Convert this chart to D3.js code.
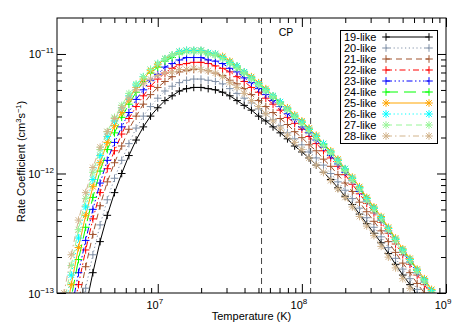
<!DOCTYPE html>
<html>
<head>
<meta charset="utf-8">
<title>Rate coefficients</title>
<style>
  body { margin: 0; background: #fff; }
  text { font-family: "Liberation Sans", Arial, sans-serif; fill: #000; }
</style>
</head>
<body>
<div id="chart"></div>
<script src="https://d3js.org/d3.v7.min.js"></script>
<script>
// log10 of temperature (K), shared grid for all curves
var logT = [6.30, 6.35, 6.40, 6.45, 6.50, 6.55, 6.60, 6.65, 6.70, 6.75,
            6.80, 6.85, 6.90, 6.95, 7.00, 7.05, 7.10, 7.15, 7.20, 7.25,
            7.30, 7.35, 7.40, 7.45, 7.50, 7.55, 7.60, 7.65, 7.70, 7.75,
            7.80, 7.85, 7.90, 7.95, 8.00, 8.05, 8.10, 8.15, 8.20, 8.25,
            8.30, 8.35, 8.40, 8.45, 8.50, 8.55, 8.60, 8.65, 8.70, 8.75,
            8.80, 8.85, 8.90, 8.95, 9.00];

// log10 of rate coefficient (cm^3 s^-1)
var rate19 = [-14.50, -14.12, -13.76, -13.42, -13.12, -12.83, -12.57, -12.35, -12.16, -12.00,
              -11.85, -11.72, -11.61, -11.52, -11.45, -11.39, -11.35, -11.31, -11.29, -11.28,
              -11.28, -11.29, -11.30, -11.32, -11.35, -11.39, -11.43, -11.47, -11.52, -11.56,
              -11.61, -11.66, -11.71, -11.77, -11.82, -11.87, -11.93, -11.99, -12.05, -12.12,
              -12.19, -12.26, -12.34, -12.42, -12.50, -12.58, -12.67, -12.76, -12.85, -12.93,
              -13.02, -13.10, -13.19, -13.27, -13.36];
var rate20 = [-14.31, -13.94, -13.59, -13.25, -12.96, -12.68, -12.43, -12.22, -12.04, -11.89,
              -11.75, -11.62, -11.52, -11.44, -11.37, -11.31, -11.27, -11.24, -11.22, -11.21,
              -11.21, -11.22, -11.23, -11.25, -11.29, -11.33, -11.37, -11.41, -11.46, -11.50,
              -11.55, -11.60, -11.66, -11.71, -11.76, -11.82, -11.87, -11.93, -12.00, -12.07,
              -12.14, -12.21, -12.29, -12.37, -12.45, -12.53, -12.62, -12.71, -12.80, -12.88,
              -12.97, -13.05, -13.14, -13.22, -13.31];
var rate21 = [-14.11, -13.74, -13.39, -13.07, -12.78, -12.51, -12.27, -12.07, -11.91, -11.77,
              -11.63, -11.52, -11.42, -11.34, -11.28, -11.23, -11.19, -11.15, -11.14, -11.13,
              -11.13, -11.14, -11.16, -11.18, -11.22, -11.25, -11.29, -11.34, -11.39, -11.44,
              -11.49, -11.54, -11.59, -11.65, -11.70, -11.76, -11.81, -11.88, -11.94, -12.01,
              -12.08, -12.15, -12.24, -12.32, -12.40, -12.48, -12.57, -12.66, -12.75, -12.83,
              -12.92, -13.00, -13.09, -13.17, -13.26];
var rate22 = [-13.95, -13.59, -13.25, -12.93, -12.64, -12.38, -12.16, -11.96, -11.81, -11.67,
              -11.54, -11.44, -11.35, -11.27, -11.21, -11.16, -11.12, -11.09, -11.08, -11.07,
              -11.07, -11.08, -11.10, -11.12, -11.15, -11.19, -11.23, -11.28, -11.32, -11.37,
              -11.42, -11.47, -11.53, -11.58, -11.63, -11.69, -11.75, -11.81, -11.87, -11.94,
              -12.01, -12.09, -12.17, -12.25, -12.33, -12.41, -12.50, -12.59, -12.68, -12.76,
              -12.85, -12.93, -13.02, -13.10, -13.19];
var rate23 = [-13.85, -13.49, -13.15, -12.83, -12.56, -12.30, -12.08, -11.89, -11.74, -11.61,
              -11.49, -11.38, -11.30, -11.22, -11.17, -11.11, -11.08, -11.05, -11.03, -11.03,
              -11.03, -11.05, -11.06, -11.08, -11.12, -11.15, -11.20, -11.24, -11.29, -11.34,
              -11.39, -11.44, -11.50, -11.55, -11.61, -11.66, -11.72, -11.78, -11.85, -11.92,
              -11.99, -12.06, -12.15, -12.23, -12.31, -12.39, -12.48, -12.57, -12.66, -12.74,
              -12.83, -12.91, -13.00, -13.08, -13.17];
var rate24 = [-13.73, -13.37, -13.04, -12.72, -12.45, -12.20, -11.98, -11.80, -11.66, -11.53,
              -11.42, -11.32, -11.23, -11.16, -11.11, -11.06, -11.03, -11.00, -10.98, -10.98,
              -10.98, -11.00, -11.01, -11.03, -11.07, -11.11, -11.16, -11.20, -11.25, -11.30,
              -11.36, -11.41, -11.46, -11.52, -11.57, -11.63, -11.69, -11.76, -11.82, -11.89,
              -11.97, -12.04, -12.12, -12.21, -12.29, -12.37, -12.46, -12.55, -12.64, -12.72,
              -12.81, -12.89, -12.98, -13.06, -13.15];
var rate25 = [-13.61, -13.26, -12.93, -12.62, -12.35, -12.11, -11.91, -11.74, -11.60, -11.49,
              -11.38, -11.28, -11.21, -11.14, -11.09, -11.04, -11.01, -10.98, -10.97, -10.97,
              -10.97, -10.99, -11.00, -11.02, -11.06, -11.10, -11.15, -11.19, -11.24, -11.29,
              -11.35, -11.40, -11.45, -11.51, -11.56, -11.62, -11.68, -11.75, -11.81, -11.88,
              -11.96, -12.03, -12.11, -12.20, -12.28, -12.36, -12.45, -12.54, -12.63, -12.71,
              -12.80, -12.88, -12.97, -13.05, -13.14];
var rate26 = [-13.52, -13.17, -12.85, -12.54, -12.28, -12.05, -11.85, -11.69, -11.56, -11.45,
              -11.35, -11.26, -11.19, -11.13, -11.08, -11.04, -11.01, -10.98, -10.97, -10.97,
              -10.97, -10.99, -11.00, -11.03, -11.07, -11.10, -11.15, -11.20, -11.25, -11.30,
              -11.35, -11.40, -11.46, -11.52, -11.57, -11.63, -11.69, -11.75, -11.82, -11.89,
              -11.96, -12.04, -12.12, -12.21, -12.29, -12.37, -12.46, -12.55, -12.64, -12.72,
              -12.81, -12.89, -12.98, -13.06, -13.15];
var rate27 = [-13.43, -13.09, -12.77, -12.47, -12.21, -11.99, -11.80, -11.65, -11.53, -11.43,
              -11.33, -11.25, -11.19, -11.13, -11.08, -11.04, -11.01, -10.99, -10.98, -10.98,
              -10.98, -11.00, -11.01, -11.04, -11.08, -11.12, -11.16, -11.21, -11.26, -11.31,
              -11.36, -11.42, -11.47, -11.53, -11.59, -11.65, -11.71, -11.77, -11.83, -11.91,
              -11.98, -12.06, -12.14, -12.23, -12.31, -12.39, -12.48, -12.57, -12.66, -12.74,
              -12.83, -12.91, -13.00, -13.08, -13.17];
var rate28 = [-13.35, -13.00, -12.68, -12.39, -12.16, -11.95, -11.78, -11.65, -11.54, -11.45,
              -11.37, -11.30, -11.25, -11.21, -11.18, -11.16, -11.15, -11.13, -11.13, -11.12,
              -11.13, -11.14, -11.16, -11.19, -11.24, -11.28, -11.33, -11.39, -11.44, -11.50,
              -11.56, -11.62, -11.68, -11.74, -11.80, -11.87, -11.93, -11.99, -12.06, -12.13,
              -12.20, -12.28, -12.36, -12.44, -12.52, -12.61, -12.70, -12.79, -12.88, -12.96,
              -13.06, -13.14, -13.23, -13.31, -13.40];

var seriesNames = ["19-like", "20-like", "21-like", "22-like", "23-like",
                   "24-like", "25-like", "26-like", "27-like", "28-like"];
var seriesRates = [rate19, rate20, rate21, rate22, rate23, rate24, rate25, rate26, rate27, rate28];

// vertical markers (CP region), in K
var cpBounds = [5.25e7, 1.15e8];

var xMajor = [1e7, 1e8, 1e9];
var xMajorExp = ["7", "8", "9"];
var yMajor = [1e-13, 1e-12, 1e-11];
var yMajorExp = ["\u221213", "\u221212", "\u221211"];

// styles
var colors = ["#000000", "#7f8fa6", "#a0522d", "#ff0000", "#0000ff",
              "#00ff00", "#ffa500", "#00ffff", "#98f598", "#d2b48c"];
var dashes = ["none", "1.2,2.6", "6,4", "6,3,1.5,3", "6,2.5,1.5,2.5,1.5,2.5,1.5,2.5",
              "12,6", "none", "1.2,2.6", "6,4", "6,3,1.5,3"];
var symbols = ["plus", "plus", "plus", "plus", "plus", "plus", "star", "star", "star", "star"];

var W = 463, H = 331;
var margin = {left: 57, right: 17, top: 18, bottom: 38};

var svg = d3.select("#chart").append("svg")
  .attr("width", W)
  .attr("height", H);

var x = d3.scaleLog().domain([2e6, 1e9]).range([margin.left, W - margin.right]);
var y = d3.scaleLog().domain([1e-13, 2e-11]).range([H - margin.bottom, margin.top]);

var x0 = margin.left, x1 = W - margin.right, y0 = H - margin.bottom, y1 = margin.top;

// minor ticks: 2..9 in each decade
function minors(lo, hi) {
  var out = [];
  for (var e = Math.floor(Math.log10(lo)); e <= Math.ceil(Math.log10(hi)); e++) {
    for (var m = 2; m <= 9; m++) {
      var v = m * Math.pow(10, e);
      if (v > lo * 1.0001 && v < hi * 0.9999) out.push(v);
    }
  }
  return out;
}
var xMinor = minors(2e6, 1e9);
var yMinor = minors(1e-13, 2e-11);

svg.append("defs").append("clipPath").attr("id", "clip")
  .append("rect")
  .attr("x", x0).attr("y", y1)
  .attr("width", x1 - x0).attr("height", y0 - y1);

// axes: ticks inward on all four sides
function drawAxis(axis, tx, ty) {
  var g = svg.append("g").attr("transform", "translate(" + tx + "," + ty + ")").call(axis);
  g.select(".domain").remove();
  g.selectAll("text").remove();
  g.selectAll("line").attr("stroke", "#000").attr("stroke-width", 1);
  return g;
}
drawAxis(d3.axisBottom(x).tickValues(xMajor).tickSize(-9), 0, y0);
drawAxis(d3.axisBottom(x).tickValues(xMinor).tickSize(-5), 0, y0);
drawAxis(d3.axisTop(x).tickValues(xMajor).tickSize(-9), 0, y1);
drawAxis(d3.axisTop(x).tickValues(xMinor).tickSize(-5), 0, y1);
drawAxis(d3.axisLeft(y).tickValues(yMajor).tickSize(-9), x0, 0);
drawAxis(d3.axisLeft(y).tickValues(yMinor).tickSize(-5), x0, 0);
drawAxis(d3.axisRight(y).tickValues(yMajor).tickSize(-9), x1, 0);
drawAxis(d3.axisRight(y).tickValues(yMinor).tickSize(-5), x1, 0);

// tick labels with superscript exponents
xMajor.forEach(function(v, i) {
  var t = svg.append("text")
    .attr("x", x(v) - 3).attr("y", y0 + 16)
    .attr("text-anchor", "middle")
    .attr("font-size", 11);
  t.append("tspan").text("10");
  t.append("tspan").attr("dy", -5).attr("font-size", 8).text(xMajorExp[i]);
});
yMajor.forEach(function(v, i) {
  var t = svg.append("text")
    .attr("x", x0 - 3).attr("y", y(v) + 4.5)
    .attr("text-anchor", "end")
    .attr("font-size", 11);
  t.append("tspan").text("10");
  t.append("tspan").attr("dy", -5).attr("font-size", 8).text(yMajorExp[i]);
});

svg.append("text")
  .attr("x", (x0 + x1) / 2).attr("y", y0 + 27)
  .attr("text-anchor", "middle")
  .attr("font-size", 11)
  .text("Temperature (K)");

var yl = svg.append("text")
  .attr("transform", "translate(25," + ((y0 + y1) / 2 + 6) + ") rotate(-90)")
  .attr("text-anchor", "middle")
  .attr("font-size", 11);
yl.append("tspan").text("Rate Coefficient (cm");
yl.append("tspan").attr("dy", -4).attr("font-size", 7.5).text("3");
yl.append("tspan").attr("dy", 4).text("s");
yl.append("tspan").attr("dy", -4).attr("font-size", 7.5).text("\u22121");
yl.append("tspan").attr("dy", 4).text(")");

// CP boundaries
svg.append("g").selectAll("line")
  .data(cpBounds)
  .enter()
  .append("line")
  .attr("x1", function(d) { return x(d); })
  .attr("x2", function(d) { return x(d); })
  .attr("y1", y1).attr("y2", y0)
  .attr("stroke", "#444")
  .attr("stroke-width", 1)
  .attr("stroke-dasharray", "6,4");

svg.append("text")
  .attr("x", Math.sqrt(cpBounds[0] * cpBounds[1]) ? x(Math.sqrt(cpBounds[0] * cpBounds[1])) : 0)
  .attr("y", y1 + 18)
  .attr("text-anchor", "middle")
  .attr("font-size", 10.5)
  .text("CP");

// marker shapes
function markerPath(kind, s) {
  var p = "M" + (-s) + ",0H" + s + "M0," + (-s) + "V" + s;
  if (kind === "star") {
    var d = s * 0.75;
    p += "M" + (-d) + "," + (-d) + "L" + d + "," + d + "M" + (-d) + "," + d + "L" + d + "," + (-d);
  }
  return p;
}

var line = d3.line()
  .x(function(d) { return x(Math.pow(10, d[0])); })
  .y(function(d) { return y(Math.pow(10, d[1])); });

var plot = svg.append("g").attr("clip-path", "url(#clip)");

seriesRates.forEach(function(rates, k) {
  var pts = logT.map(function(t, i) { return [t, rates[i]]; });
  var g = plot.append("g");
  g.append("path")
    .datum(pts)
    .attr("d", line)
    .attr("fill", "none")
    .attr("stroke", colors[k])
    .attr("stroke-width", 1)
    .attr("stroke-dasharray", dashes[k]);
  g.selectAll("path.m")
    .data(pts)
    .enter()
    .append("path")
    .attr("class", "m")
    .attr("transform", function(d) {
      return "translate(" + x(Math.pow(10, d[0])) + "," + y(Math.pow(10, d[1])) + ")";
    })
    .attr("d", markerPath(symbols[k], 3.8))
    .attr("fill", "none")
    .attr("stroke", colors[k])
    .attr("stroke-width", 1);
});

// frame
svg.append("rect")
  .attr("x", x0).attr("y", y1)
  .attr("width", x1 - x0).attr("height", y0 - y1)
  .attr("fill", "none")
  .attr("stroke", "#000")
  .attr("stroke-width", 1);

// legend
var lg = svg.append("g");
lg.append("rect")
  .attr("x", 340.5).attr("y", 30.5)
  .attr("width", 97).attr("height", 113)
  .attr("fill", "#fff")
  .attr("stroke", "#000")
  .attr("stroke-width", 1);

seriesNames.forEach(function(name, k) {
  var ry = 37 + k * 11;
  lg.append("text")
    .attr("x", 344).attr("y", ry + 4)
    .attr("font-size", 11)
    .text(name);
  lg.append("line")
    .attr("x1", 386).attr("x2", 429)
    .attr("y1", ry).attr("y2", ry)
    .attr("stroke", colors[k])
    .attr("stroke-width", 1)
    .attr("stroke-dasharray", dashes[k]);
  [386, 429].forEach(function(px) {
    lg.append("path")
      .attr("transform", "translate(" + px + "," + ry + ")")
      .attr("d", markerPath(symbols[k], 3.8))
      .attr("fill", "none")
      .attr("stroke", colors[k])
      .attr("stroke-width", 1);
  });
});
</script>
</body>
</html>
